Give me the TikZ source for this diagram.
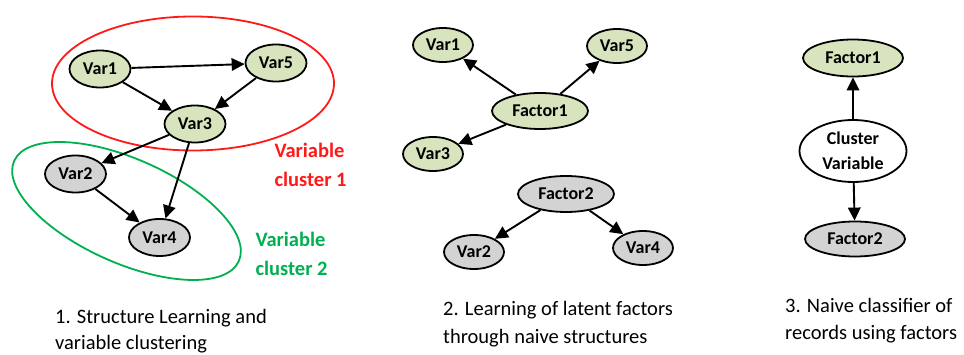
\documentclass[tikz,border=0pt]{standalone}
\usepackage{fontspec}
\setmainfont{Carlito}
\usetikzlibrary{shapes.geometric,arrows.meta}
\definecolor{nodegreen}{HTML}{D7E4BD}
\definecolor{nodegrey}{HTML}{D3D3D3}
\definecolor{clred}{HTML}{FF1A1A}
\definecolor{clgreen}{HTML}{00B050}
\begin{document}
\begin{tikzpicture}[x=1pt,y=-1pt,
  varnode/.style={ellipse,draw=black,line width=1.8pt,inner sep=0pt,
    font=\fontsize{18}{21}\selectfont\bfseries,text=black},
  gnode/.style={varnode,fill=nodegreen},
  ynode/.style={varnode,fill=nodegrey},
  wnode/.style={varnode,fill=white},
  vsize/.style={minimum width=61pt,minimum height=37pt},
  psize/.style={minimum width=60pt,minimum height=34pt},
  fsize/.style={minimum width=96pt,minimum height=36pt},
  conn/.style={draw=black,line width=1.9pt,-{Triangle[length=13pt,width=12.5pt]}},
  cluster/.style={ellipse,line width=1.8pt,inner sep=0pt},
  cltext/.style={font=\fontsize{20.5}{29}\selectfont\bfseries,align=left,anchor=west},
  captext/.style={font=\fontsize{20.5}{28}\selectfont,anchor=base west,inner sep=0pt},
]
\useasboundingbox (0,0) rectangle (964,355);

% ---------- Panel 1 ----------
\node[cluster,draw=clred,minimum width=282pt,minimum height=134pt] (cl1) at (193,83.5) {};
\node[cluster,draw=clgreen,minimum width=246pt,minimum height=104pt,rotate=-24] (cl2) at (126.5,211) {};

\node[gnode,vsize] (p1v1) at (100,69) {Var1};
\node[gnode,vsize] (p1v5) at (276,63) {Var5};
\node[gnode,vsize] (p1v3) at (195,124) {Var3};
\node[ynode,vsize] (p1v2) at (75.5,174) {Var2};
\node[ynode,vsize] (p1v4) at (159.5,237.5) {Var4};

\draw[conn] (p1v1) -- (p1v5);
\draw[conn] (p1v1) -- (p1v3);
\draw[conn] (p1v5) -- (p1v3);
\draw[conn] (p1v3) -- (p1v2);
\draw[conn] (p1v3) -- (p1v4);
\draw[conn] (p1v2) -- (p1v4);

\node[cltext,text=clred] (cl1t) at (271,165) {Variable\\cluster 1};
\node[cltext,text=clgreen] (cl2t) at (252,254) {Variable\\cluster 2};

\node[captext] (cap1a) at (55,324) {1. Structure Learning and};
\node[captext] (cap1b) at (55,349.5) {variable clustering};

% ---------- Panel 2 ----------
\node[gnode,psize] (p2v1) at (443,45) {Var1};
\node[gnode,psize] (p2v5) at (617,46) {Var5};
\node[gnode,fsize] (p2f1) at (540,111) {Factor1};
\node[gnode,psize] (p2v3) at (433,154) {Var3};
\node[ynode,fsize] (p2f2) at (566,194) {Factor2};
\node[ynode,psize] (p2v2) at (474,252) {Var2};
\node[ynode,psize] (p2v4) at (643,248) {Var4};

\draw[conn] (p2f1) -- (p2v1);
\draw[conn] (p2f1) -- (p2v5);
\draw[conn] (p2f1) -- (p2v3);
\draw[conn] (p2f2) -- (p2v2);
\draw[conn] (p2f2) -- (p2v4);

\node[captext] (cap2a) at (443,316) {2. Learning of latent factors};
\node[captext] (cap2b) at (443,344) {through naive structures};

% ---------- Panel 3 ----------
\node[gnode,minimum width=100pt,minimum height=37pt] (p3f1) at (853,58) {Factor1};
\node[wnode,minimum width=107pt,minimum height=62pt,align=center,
  font=\fontsize{18}{25}\selectfont\bfseries] (p3cv) at (853,151) {Cluster\\Variable};
\node[ynode,minimum width=100pt,minimum height=35pt] (p3f2) at (855,239) {Factor2};

\draw[conn] (p3cv) -- (p3f1);
\draw[conn] (p3cv) -- (p3f2);

\node[captext] (cap3a) at (785,313) {3. Naive classifier of};
\node[captext] (cap3b) at (785,340) {records using factors};
\end{tikzpicture}
\end{document}
